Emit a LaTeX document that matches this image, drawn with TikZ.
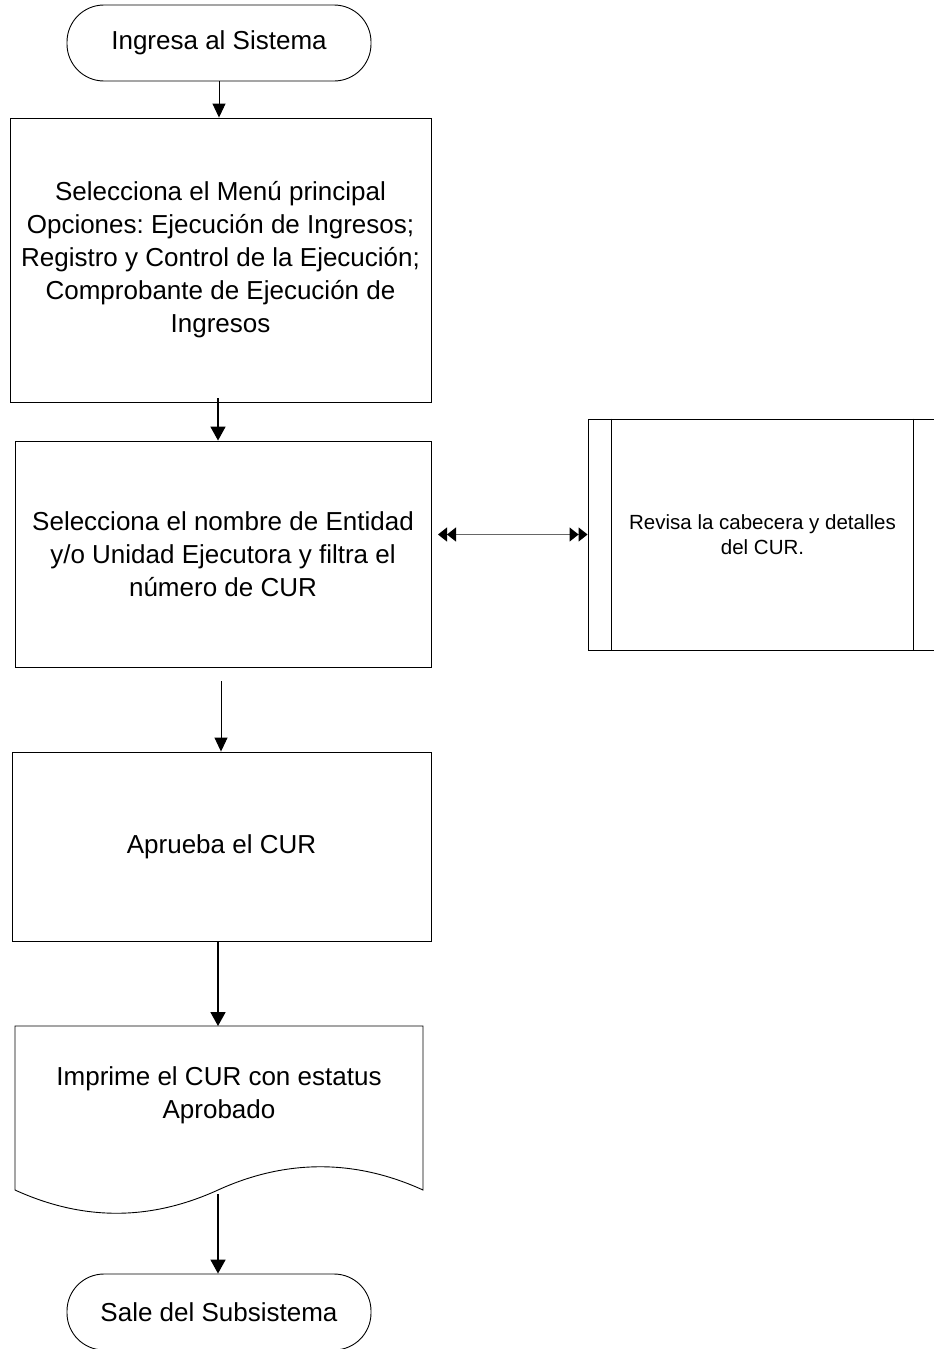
\documentclass[tikz,border=0pt]{standalone}
\usepackage{fontspec}
\setmainfont{Liberation Sans}
\usetikzlibrary{arrows.meta}
\frenchspacing
\begin{document}
\begin{tikzpicture}[x=1pt,y=-1pt,
  box/.style={draw, line width=0.9pt, inner sep=0pt, align=center, font=\fontsize{26}{33}\selectfont},
  term/.style={box, rounded corners=37pt},
  smallbox/.style={box, font=\fontsize{20.5}{24.5}\selectfont},
  arrthin/.style={-{Triangle[length=14pt,width=13pt]}, line width=0.9pt},
  arrthick/.style={-{Triangle[length=14pt,width=15pt]}, line width=1.8pt},
  dtip/.tip={Triangle[length=9pt,width=14pt,color=black,fill=black]},
  dbl/.style={{dtip[]dtip[]}-{dtip[]dtip[]}, draw=black!60, line width=1pt},
]
\clip (0,0) rectangle (934,1349);
\fill[white] (0,0) rectangle (934,1349);

\node[term, minimum width=304pt, minimum height=76pt] (start) at (219,43) {Ingresa al Sistema};

\node[box, minimum width=421pt, minimum height=284pt] (b1) at (220.5,260)
  {Selecciona el Menú principal\\Opciones: Ejecución de Ingresos;\\Registro y Control de la Ejecución;\\Comprobante de Ejecución de\\Ingresos};

\node[box, minimum width=416pt, minimum height=226pt] (b2) at (223,554)
  {Selecciona el nombre de Entidad\\y/o Unidad Ejecutora y filtra el\\número de CUR};

\node[smallbox, minimum width=349pt, minimum height=231pt] (b3) at (762.5,534.5)
  {Revisa la cabecera y detalles\\del CUR.};
\draw[line width=0.9pt] ([xshift=24pt]b3.north west) -- ([xshift=24pt]b3.south west);
\draw[line width=0.9pt] ([xshift=-24pt]b3.north east) -- ([xshift=-24pt]b3.south east);

\node[box, minimum width=419pt, minimum height=189pt] (b4) at (221.5,846.5) {Aprueba el CUR};

% document shape
\draw[line width=0.9pt] (15,1190) -- (15,1026) -- (423,1026) -- (423,1190)
  .. controls (355,1159) and (286,1159) .. (218,1190)
  .. controls (150,1221) and (83,1221) .. (15,1190);
\node[align=center, inner sep=0pt, font=\fontsize{26}{33}\selectfont] (doc) at (219,1095)
  {Imprime el CUR con estatus\\Aprobado};

\node[term, minimum width=304pt, minimum height=76pt] (end) at (219,1312) {Sale del Subsistema};

% connectors
\draw[arrthin] (start.south) -- (start.south |- b1.north);
\coordinate (a2) at (218,398);
\draw[arrthick] (a2) -- (a2 |- b2.north);
\coordinate (dl) at (438,534.5);
\draw[dbl] (dl) -- (b3.west);
\coordinate (a3) at (221,681);
\draw[arrthin] (a3) -- (a3 |- b4.north);
\coordinate (a4) at (218,941);
\draw[arrthick] (a4) -- (218,1026);
\coordinate (a5) at (218,1194);
\draw[arrthick] (a5) -- (a5 |- end.north);
\end{tikzpicture}
\end{document}
